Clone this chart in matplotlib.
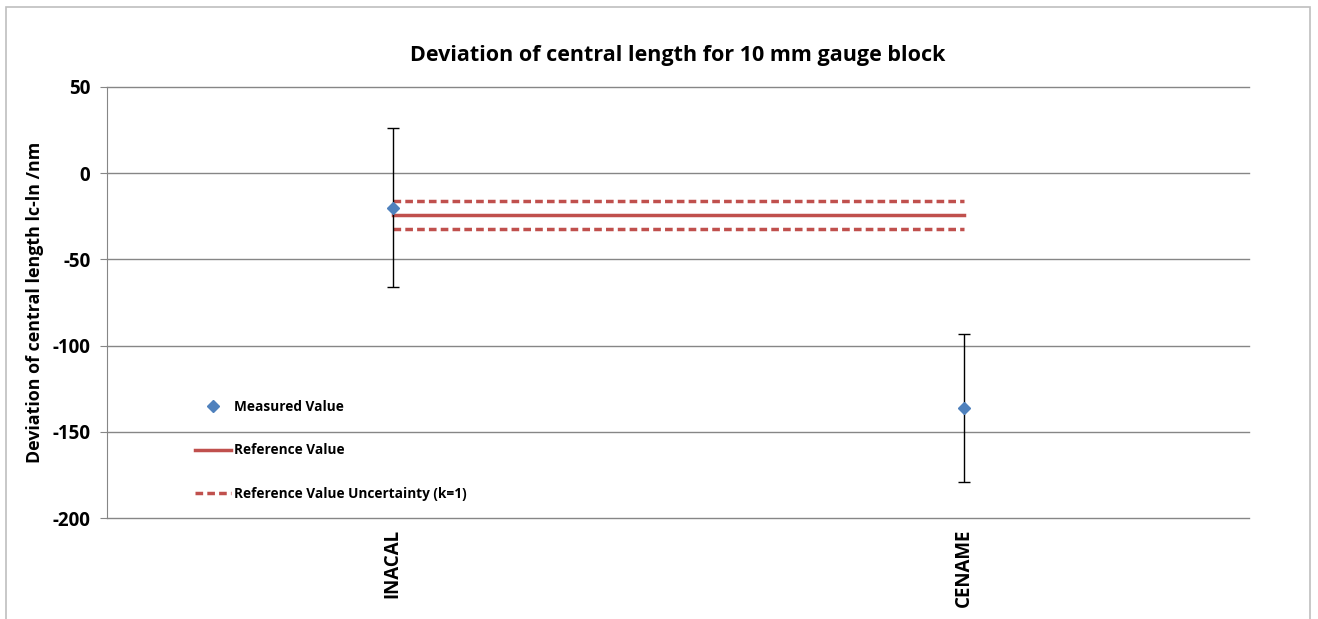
import matplotlib.pyplot as plt
from matplotlib.lines import Line2D
from matplotlib.patches import Rectangle

plt.rcParams['font.family'] = ['Open Sans', 'DejaVu Sans']
plt.rcParams['font.weight'] = 'bold'
plt.rcParams['axes.unicode_minus'] = False

# data
labs = ['INACAL', 'CENAME']
measured = [-20, -136]
unc = [46, 43]
ref_value = -24.4
ref_unc = 8.1
yticks = [50, 0, -50, -100, -150, -200]

W, H = 1318, 619
fig = plt.figure(figsize=(W / 100, H / 100), dpi=100)
ax = fig.add_axes([107 / W, 1 - 518 / H, (1249 - 107) / W, (518 - 87) / H])

grid_c = '#868686'
blue = '#4F81BD'
red = '#C0504D'

xpos = [1, 2]
ax.set_xlim(0.5, 2.5)
ax.set_ylim(-200, 50)
ax.set_yticks(yticks)
ax.yaxis.grid(True, color=grid_c, linewidth=1.0)
for gl in ax.get_ygridlines():
    gl.set_clip_on(False)
ax.set_axisbelow(True)

for s in ['top', 'right', 'bottom']:
    ax.spines[s].set_visible(False)
ax.spines['left'].set_color(grid_c)
ax.tick_params(axis='y', length=5, color=grid_c, labelsize=13.5, pad=7)
ax.tick_params(axis='x', length=0, labelsize=13.5, pad=8)
ax.set_xticks(xpos)
ax.set_xticklabels(labs, rotation=90, fontweight='bold')
for t in ax.get_yticklabels():
    t.set_fontweight('bold')

# reference value and k=1 band
ax.plot(xpos, [ref_value, ref_value], color=red, linewidth=2.5, zorder=3)
for k in (1, -1):
    ax.plot(xpos, [ref_value + k * ref_unc] * 2, color=red, linewidth=2.5,
            dashes=(2.2, 1.2), zorder=3)

ax.errorbar(xpos, measured, yerr=unc, fmt='D', color=blue, markersize=6,
            ecolor='black', elinewidth=1, capsize=4, capthick=1, zorder=4)

ax.set_title('Deviation of central length for 10 mm gauge block',
             fontsize=15.5, fontweight='bold', pad=19)
ax.set_ylabel('Deviation of central length lc-ln /nm', fontsize=12.9,
              fontweight='bold', labelpad=6)

handles = [
    Line2D([], [], linestyle='none', marker='D', color=blue, markersize=6),
    Line2D([], [], color=red, linewidth=2.5),
    Line2D([], [], color=red, linewidth=2.5, dashes=(2.2, 1.2)),
]
leg = ax.legend(handles, ['Measured Value', 'Reference Value',
                          'Reference Value Uncertainty (k=1)'],
                loc='upper left', bbox_to_anchor=(195 / W, 1 - 400 / H),
                bbox_transform=fig.transFigure, frameon=False,
                prop={'size': 9.8, 'weight': 'bold'}, handlelength=2.65,
                handletextpad=0.2, labelspacing=2.15, borderpad=0,
                borderaxespad=0)

# outer chart border
fig.patches.append(Rectangle((6 / W, -0.1), (1310 - 6) / W, 1.1 - 7 / H,
                             transform=fig.transFigure, fill=False,
                             edgecolor='#BFBFBF', linewidth=1.2))

fig.savefig('out.png', dpi=100)
